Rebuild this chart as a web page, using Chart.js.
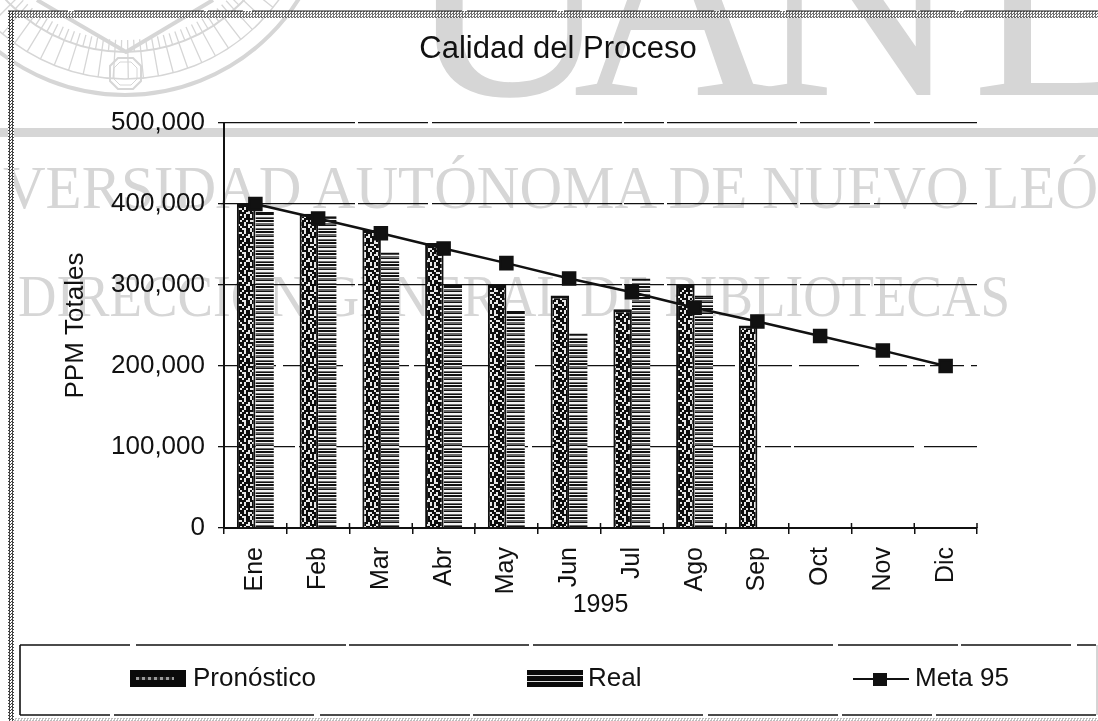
<!DOCTYPE html>
<html><head><meta charset="utf-8">
<style>
html,body{margin:0;padding:0;background:#fff;overflow:hidden}
#page{position:relative;width:1098px;height:721px;overflow:hidden;font-family:"Liberation Sans",Arial,sans-serif;color:#111}
#wm,#frame{position:absolute;left:0;top:0}
canvas{position:absolute;left:0;top:0}
.strip{position:absolute;background:repeating-conic-gradient(#444 0 25%,#fff 0 50%) 0 0/3px 3px}
.lg{position:absolute;font-size:26px;line-height:30px;top:662px;white-space:nowrap}
.sw{position:absolute;top:670px;height:17px;width:56px}
</style></head><body>
<div id="page">
<svg id="wm" width="1098" height="721" xmlns="http://www.w3.org/2000/svg">
 <g fill="none" stroke="#d6d6d6">
  <circle cx="125" cy="-110" r="205" stroke-width="4"/>
  <circle cx="125" cy="-110" r="189" stroke-width="1.5"/>
  <circle cx="125" cy="-110" r="162" stroke-width="2"/>
  <path id="rays" stroke-width="1.3"/>
  <path d="M37 0L126 52L213 0" stroke-width="4"/>
  <polygon points="118,58 133,58 141,66 141,81 133,89 118,89 110,81 110,66" stroke-width="2"/>
  <polygon points="120,62 131,62 137,68 137,79 131,85 120,85 114,79 114,68" stroke-width="1"/>
 </g>
 <g fill="#d6d6d6" font-family="'Liberation Serif',serif">
  <text x="406" y="95" font-size="285">U</text>
  <text x="573" y="95" font-size="285">A</text>
  <text x="755" y="95" font-size="285">N</text>
  <text x="972" y="95" font-size="285">L</text>
  <rect x="0" y="128" width="1098" height="9"/>
  <text x="3" y="208" font-size="62" textLength="1095" lengthAdjust="spacingAndGlyphs">VERSIDAD AUTÓNOMA DE NUEVO LEÓ</text>
  <text x="18" y="316" font-size="60" textLength="992" lengthAdjust="spacingAndGlyphs">DIRECCIÓN GENERAL DE BIBLIOTECAS</text>
 </g>
</svg>
<div class="strip" style="left:8px;top:11px;width:6px;height:710px"></div>
<div class="strip" style="left:8px;top:11px;width:1090px;height:7px;opacity:.75"></div>
<div class="strip" style="left:14px;top:718px;width:1084px;height:3px;opacity:.35"></div>
<svg id="frame" width="1098" height="721" xmlns="http://www.w3.org/2000/svg">
 <path d="M8 11H1098" stroke="#222" stroke-width="1.2" stroke-dasharray="60 6 130 4 35 9 210 5 90 7 150 6"/>
 <g fill="none" stroke="#111" stroke-width="1.6">
  <path d="M20 645H1096" stroke-dasharray="110 6 210 3 180 4 300 5 120 3"/>
  <path d="M20 715H1096" stroke-dasharray="90 4 200 6 150 3 230 5 130 4"/>
  <path d="M20 645V715"/>
 </g>
 <path d="M1097 645V715" stroke="#aaa" stroke-width="1"/>
</svg>
<canvas id="c" width="1098" height="721"></canvas>
<div id="legend"></div>
</div>
<script src="https://cdn.jsdelivr.net/npm/chart.js@4"></script>
<script>
const categories=["Ene","Feb","Mar","Abr","May","Jun","Jul","Ago","Sep","Oct","Nov","Dic"];
const pronostico=[400000,388000,368000,352000,300000,287000,270000,300000,250000,null,null,null];
const real=[390000,385000,340000,300000,268000,240000,308000,287000,null,null,null,null];
const meta95=[400000,382000,364000,345000,327000,308000,291000,272000,255000,237000,219000,200000];
const yTicks=[0,100000,200000,300000,400000,500000];

// fixed bitmap tiles for the scanned hatch fills
function tile(rows,colours,scale){
  const c=document.createElement('canvas');c.width=rows[0].length*scale;c.height=rows.length*scale;
  const x=c.getContext('2d');
  rows.forEach((r,j)=>[...r].forEach((ch,i)=>{x.fillStyle=colours[ch];x.fillRect(i*scale,j*scale,scale,scale);}));
  return c;
}
const speckle=tile([
 "##.##.#.##",
 "#.#####..#",
 ".##.#..###",
 "##.####.##",
 "##.#..##..",
 ".###.#.###",
 "#..##.##.#",
 "##.##.#..#",
 ".#.###.##.",
 "#.##.#.###",
 "###..###.#",
 ".#.##.#.##"],{'#':'#0d0d0d','.':'#e8e8e8'},2);
const stripes=tile([
 "#","#",".","%","%","#",".",".","%","#","."],{'#':'#111','.':'#f4f4f4','%':'#6a6a6a'},1);
const ctx=document.getElementById('c').getContext('2d');

// grey rays of the seal in the watermark
(function(){let d='';for(let a=20;a<=160;a+=4.6){const t=a*Math.PI/180;
 d+=`M${125+162*Math.cos(t)} ${-110+162*Math.sin(t)}L${125+189*Math.cos(t)} ${-110+189*Math.sin(t)}`;}
 for(let a=20;a<=160;a+=2.3){const t=a*Math.PI/180;
 d+=`M${125+150*Math.cos(t)} ${-110+150*Math.sin(t)}L${125+162*Math.cos(t)} ${-110+162*Math.sin(t)}`;}
 document.getElementById('rays').setAttribute('d',d);})();

const crossTicks={id:'crossTicks',afterDraw(ch){
  const x=ch.scales.x,g=ch.ctx,b=ch.chartArea.bottom;
  g.save();g.strokeStyle='#111';g.lineWidth=1.5;g.beginPath();
  for(let i=0;i<=categories.length;i++){
    const px=x.getPixelForValue(0)+(i-.5)*(x.getPixelForValue(1)-x.getPixelForValue(0));
    g.moveTo(px,b-5);g.lineTo(px,b);
  }
  g.stroke();g.restore();
}};

const chart=new Chart(ctx,{
 type:'bar',
 plugins:[crossTicks],
 data:{labels:categories,datasets:[
  {type:'line',label:'Meta 95',data:meta95,borderColor:'#111',backgroundColor:'#111',borderWidth:2.5,
   pointStyle:'rect',pointRadius:8.5,pointBackgroundColor:'#111',pointBorderColor:'#111',tension:0,order:0,fill:false,yAxisID:'y'},
  {label:'Pronóstico',data:pronostico,backgroundColor:ctx.createPattern(speckle,'repeat'),borderColor:'#111',borderWidth:{left:2,right:2,top:3,bottom:0},order:1,categoryPercentage:.59,barPercentage:1,yAxisID:'y'},
  {label:'Real',data:real,backgroundColor:ctx.createPattern(stripes,'repeat'),borderColor:'#111',borderWidth:{left:0,right:0,top:2,bottom:0},order:2,categoryPercentage:.59,barPercentage:1,yAxisID:'y'}
 ]},
 options:{
  responsive:false,animation:false,
  layout:{padding:{left:18,right:0,top:0,bottom:0}},
  plugins:{
   legend:{display:false},tooltip:{enabled:false},
   title:{display:true,text:'Calidad del Proceso',color:'#111',font:{family:'"Liberation Sans"',size:31,weight:'normal'},padding:{top:31,bottom:54.8}}
  },
  scales:{
   x:{
    offset:true,
    afterFit(s){s.height=193;},
    grid:{display:true,drawOnChartArea:false,offset:true,tickLength:6,color:'#111',lineWidth:1.5},
    border:{color:'#111',width:2},
    ticks:{minRotation:90,maxRotation:90,autoSkip:false,padding:13,color:'#111',font:{family:'"Liberation Sans"',size:25}},
    title:{display:true,text:'1995',color:'#111',font:{family:'"Liberation Sans"',size:25},padding:{top:0,bottom:101}}
   },
   y:{
    min:0,max:500000,
    afterFit(s){s.width=206;},
    afterBuildTicks(s){s.ticks=yTicks.map(v=>({value:v}));},
    grid:{color:'#111',lineWidth:1.3,tickLength:6},
    border:{color:'#111',width:2,dash:c=>{
      const v=c.tick?c.tick.value:0;
      if(v===200000)return[12,5,34,7,60,20,28,6];
      if(v===100000)return[70,4,26,3,120,10];
      return[130,3,70,4,190,2,40,3];}},
    ticks:{padding:13,color:'#111',font:{family:'"Liberation Sans"',size:26},callback:v=>Number(v).toLocaleString('en-US')},
    title:{display:true,text:'PPM Totales',color:'#111',font:{family:'"Liberation Sans"',size:26},padding:{top:42.4,bottom:0}}
   },
   // empty right-hand scale: reserves the margin right of the plot so the title centres on the sheet
   margin:{
    type:'linear',position:'right',display:true,
    afterFit(s){s.width=121;},
    grid:{display:false},border:{display:false},ticks:{display:false}
   }
  }
 }
});

// legend built from the chart's own datasets, spread across the wide box
const lg=document.getElementById('legend');
const slots={'Pronóstico':{sw:130,tx:193},'Real':{sw:527,tx:588},'Meta 95':{sw:853,tx:915}};
chart.data.datasets.slice().sort((a,b)=>a.order-b.order).forEach(d=>{
  const s=slots[d.label];
  const el=document.createElement('div');el.className='sw';el.style.left=s.sw+'px';
  if(d.type==='line'){
    el.style.cssText+=';background:linear-gradient(#111,#111) 0 8px/100% 2px no-repeat;';
    const m=document.createElement('div');m.style.cssText='position:absolute;left:20px;top:3px;width:14px;height:13px;background:#111';el.appendChild(m);
  }else{
    // legend swatches in the scan are almost solid black with a little light showing through
    el.style.background=d.label==='Real'
      ?'repeating-linear-gradient(#0a0a0a 0 5px,#ddd 5px 6px)'
      :'#0a0a0a';
    if(d.label==='Pronóstico'){
      const n=document.createElement('div');n.style.cssText='position:absolute;left:6px;top:7px;width:38px;height:3px;background:repeating-linear-gradient(90deg,#999 0 3px,#222 3px 6px)';el.appendChild(n);
    }
  }
  lg.appendChild(el);
  const t=document.createElement('div');t.className='lg';t.style.left=s.tx+'px';t.textContent=d.label;lg.appendChild(t);
});
</script>
</body></html>
